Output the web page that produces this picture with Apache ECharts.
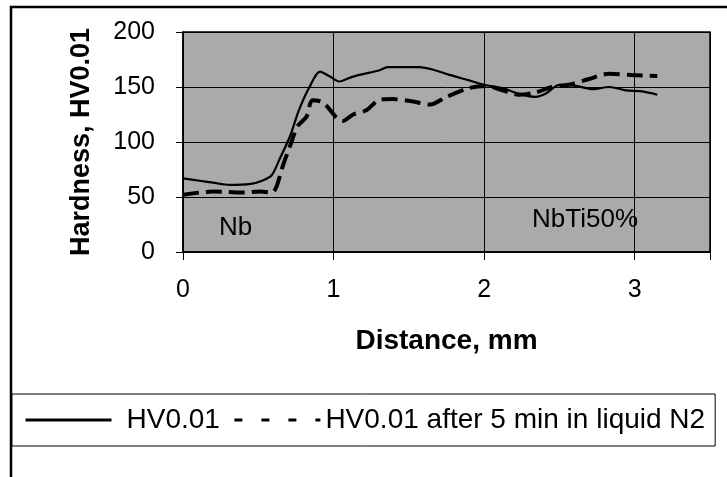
<!DOCTYPE html>
<html>
<head>
<meta charset="utf-8">
<script src="https://cdn.jsdelivr.net/npm/echarts@6/dist/echarts.min.js"></script>
<style>
  html, body { margin: 0; padding: 0; background: #fff; }
  #chart { width: 727px; height: 477px; }
</style>
</head>
<body>
<div id="chart"></div>
<script>
// series names
const seriesNames = ["HV0.01", "HV0.01 after 5 min in liquid N2"];

// HV0.01 : [distance mm, hardness]
const hvPlain = [
  [0, 67], [0.1, 65], [0.2, 63], [0.31, 61], [0.45, 62], [0.53, 65],
  [0.59, 70], [0.64, 84], [0.71, 105], [0.77, 129], [0.84, 150], [0.91, 164],
  [0.97, 160], [1.04, 155], [1.1, 158], [1.17, 161], [1.3, 165], [1.36, 168],
  [1.57, 168], [1.68, 165], [1.77, 161], [1.9, 156], [2.0, 152], [2.12, 149],
  [2.23, 144], [2.34, 141], [2.41, 144], [2.5, 152], [2.61, 151], [2.72, 148],
  [2.83, 150], [2.94, 147], [3.05, 146], [3.15, 143]
];

// HV0.01 after 5 min in liquid N2
const hvNitrogen = [
  [0, 52], [0.2, 55], [0.4, 54], [0.51, 55], [0.59, 54], [0.62, 59],
  [0.66, 77], [0.71, 96], [0.76, 114], [0.82, 123], [0.86, 138], [0.93, 136],
  [1.02, 122], [1.06, 119], [1.13, 125], [1.22, 129], [1.3, 138], [1.39, 139],
  [1.52, 137], [1.64, 134], [1.75, 141], [1.9, 149], [2.01, 151], [2.12, 147],
  [2.23, 143], [2.34, 145], [2.45, 150], [2.56, 152], [2.69, 157], [2.83, 162],
  [2.98, 161], [3.15, 160]
];

// region annotations: [distance, hardness, text]
const regionLabels = [
  [0.35, 22, "Nb"],
  [2.67, 29, "NbTi50%"]
];

const font = "'Liberation Sans', Arial, sans-serif";

const chart = echarts.init(document.getElementById("chart"));

const option = {
  animation: false,
  backgroundColor: "#fff",
  grid: {
    left: 183,
    right: 17,
    top: 32,
    bottom: 225,
    show: true,
    backgroundColor: "#aaaaaa",
    borderColor: "#000",
    borderWidth: 1.5
  },
  xAxis: {
    type: "value",
    min: 0,
    max: 3.5,
    interval: 1,
    name: "Distance, mm",
    nameLocation: "middle",
    nameGap: 75,
    nameTextStyle: { fontFamily: font, fontSize: 28, fontWeight: "bold", color: "#000" },
    axisLine: { show: true, lineStyle: { color: "#000", width: 1.5 } },
    axisTick: { show: true, length: 8, lineStyle: { color: "#000" } },
    axisLabel: {
      margin: 26,
      fontFamily: font,
      fontSize: 25,
      color: "#000",
      formatter: function (v) { return Number.isInteger(v) ? String(v) : ""; }
    },
    splitLine: { show: true, lineStyle: { color: "#000", width: 1 } }
  },
  yAxis: {
    type: "value",
    min: 0,
    max: 200,
    interval: 50,
    name: "Hardness, HV0.01",
    nameLocation: "middle",
    nameRotate: 90,
    nameGap: 88,
    nameTextStyle: { fontFamily: font, fontSize: 27, fontWeight: "bold", color: "#000" },
    axisLine: { show: true, lineStyle: { color: "#000", width: 1.5 } },
    axisTick: { show: true, length: 7, lineStyle: { color: "#000" } },
    axisLabel: { margin: 28, fontFamily: font, fontSize: 25, color: "#000" },
    splitLine: { show: true, lineStyle: { color: "#000", width: 1 } }
  },
  legend: {
    left: 12,
    top: 394,
    orient: "horizontal",
    padding: [11, 10, 11, 12],
    itemWidth: 86,
    itemHeight: 14,
    itemGap: 13,
    backgroundColor: "#fff",
    borderColor: "#000",
    borderWidth: 1,
    borderRadius: 0,
    data: [
      {
        name: seriesNames[0],
        itemStyle: { opacity: 0 },
        lineStyle: { color: "#000", width: 3, type: "solid" }
      },
      {
        name: seriesNames[1],
        itemStyle: { opacity: 0 },
        lineStyle: { color: "#000", width: 3, type: [8, 19] }
      }
    ],
    formatter: function (name) {
      return name === seriesNames[0] ? "{a|" + name + "}" : "{b|" + name + "}";
    },
    textStyle: {
      fontFamily: font,
      fontSize: 28,
      lineHeight: 30,
      color: "#000",
      rich: {
        a: { fontFamily: font, fontSize: 28, lineHeight: 30, color: "#000", padding: [0, 0, 0, 10] },
        b: { fontFamily: font, fontSize: 28, lineHeight: 30, color: "#000" }
      }
    }
  },
  series: [
    {
      name: seriesNames[0],
      type: "line",
      data: hvPlain,
      symbol: "none",
      smooth: 0.3,
      lineStyle: { color: "#000", width: 2.2 },
      itemStyle: { color: "#000" },
      markPoint: {
        symbol: "circle",
        symbolSize: 0,
        silent: true,
        label: {
          show: true,
          position: "inside",
          fontFamily: font,
          fontSize: 26,
          color: "#000",
          formatter: function (p) { return p.name; }
        },
        data: regionLabels.map(function (r) {
          return { name: r[2], coord: [r[0], r[1]] };
        })
      }
    },
    {
      name: seriesNames[1],
      type: "line",
      data: hvNitrogen,
      symbol: "none",
      smooth: 0.3,
      lineStyle: { color: "#000", width: 4, type: [16, 7] },
      itemStyle: { color: "#000" }
    }
  ],
  graphic: [
    {
      type: "polyline",
      silent: true,
      shape: { points: [[11, 477], [11, 7], [727, 7]] },
      style: { stroke: "#000", lineWidth: 2.5, fill: null }
    }
  ]
};

chart.setOption(option);
</script>
</body>
</html>
